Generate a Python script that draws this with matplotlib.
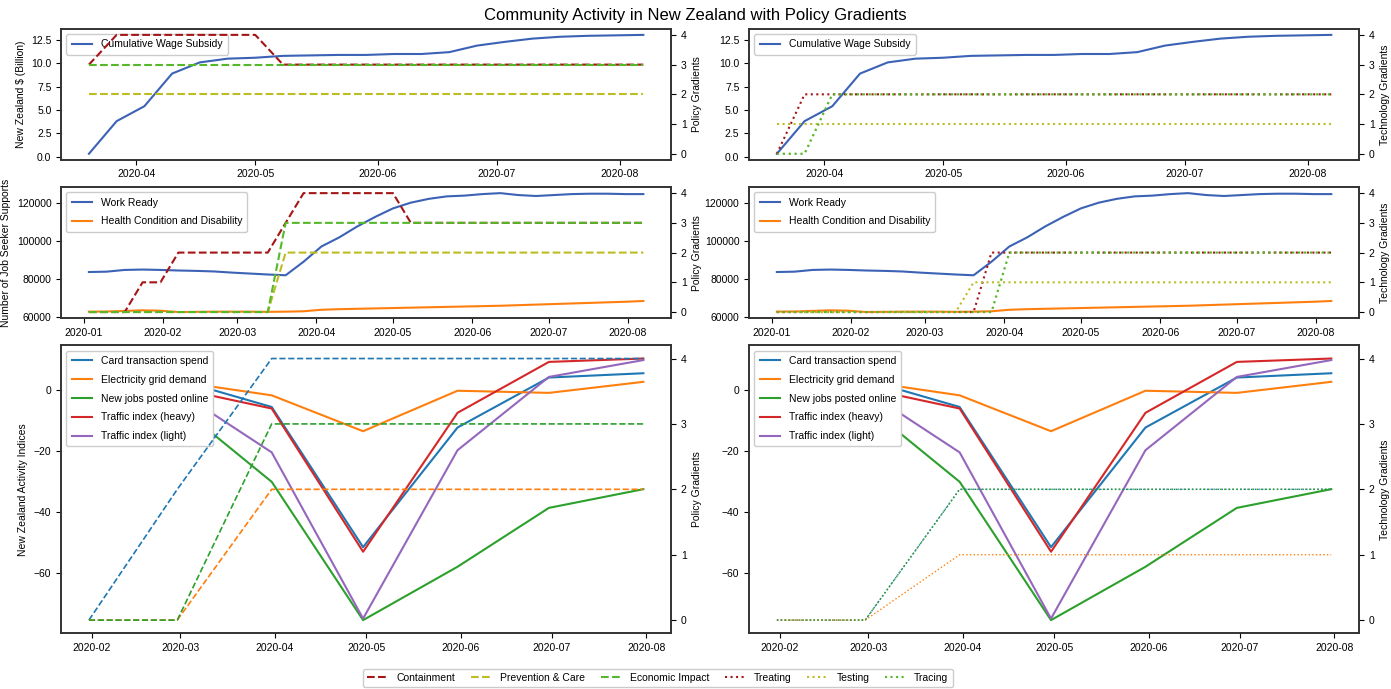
import matplotlib
matplotlib.use("Agg")
import matplotlib.pyplot as plt
import matplotlib.dates as mdates
from matplotlib.lines import Line2D
import pandas as pd

plt.rcParams['font.family'] = ['Liberation Sans', 'DejaVu Sans']
plt.rcParams['font.size'] = 7.5
plt.rcParams['axes.linewidth'] = 1.2
plt.rcParams['axes.edgecolor'] = '#333333'
plt.rcParams['legend.framealpha'] = 1.0
plt.rcParams['legend.labelspacing'] = 0.85
plt.rcParams['legend.borderpad'] = 0.5

# ---------------------------------------------
# DATA
# ---------------------------------------------
# weekly dates (Fridays) for job seeker + policy gradients
weeks = pd.date_range("2020-01-03", "2020-08-07", freq="W-FRI")

work_ready = [83600, 83800, 84700, 84900, 84700, 84400, 84200, 83900, 83300, 82800,
              82300, 81900, 89000, 97000, 101800, 107500, 112500, 117000, 120000, 122000,
              123300, 123700, 124500, 125000, 124000, 123500, 124000, 124500, 124700, 124700,
              124500, 124500]
health_disability = [62800, 62900, 63200, 63500, 63300, 62600, 62700, 62800, 62800, 62800,
                     62700, 62800, 63000, 63800, 64100, 64300, 64500, 64700, 64900, 65100,
                     65300, 65500, 65700, 65900, 66200, 66500, 66800, 67100, 67400, 67700,
                     68000, 68400]

containment = [0, 0, 0, 1, 1, 2, 2, 2, 2, 2, 2, 3, 4, 4, 4, 4, 4, 4, 3, 3,
               3, 3, 3, 3, 3, 3, 3, 3, 3, 3, 3, 3]
prevention = [0, 0, 0, 0, 0, 0, 0, 0, 0, 0, 0, 2, 2, 2, 2, 2, 2, 2, 2, 2,
              2, 2, 2, 2, 2, 2, 2, 2, 2, 2, 2, 2]
economic = [0, 0, 0, 0, 0, 0, 0, 0, 0, 0, 0, 3, 3, 3, 3, 3, 3, 3, 3, 3,
            3, 3, 3, 3, 3, 3, 3, 3, 3, 3, 3, 3]
treating = [0, 0, 0, 0, 0, 0, 0, 0, 0, 0, 0, 0, 2, 2, 2, 2, 2, 2, 2, 2,
            2, 2, 2, 2, 2, 2, 2, 2, 2, 2, 2, 2]
testing = [0, 0, 0, 0, 0, 0, 0, 0, 0, 0, 0, 1, 1, 1, 1, 1, 1, 1, 1, 1,
           1, 1, 1, 1, 1, 1, 1, 1, 1, 1, 1, 1]
tracing = [0, 0, 0, 0, 0, 0, 0, 0, 0, 0, 0, 0, 0, 2, 2, 2, 2, 2, 2, 2,
           2, 2, 2, 2, 2, 2, 2, 2, 2, 2, 2, 2]

# wage subsidy starts 2020-03-20 (index 11 of weeks)
wage_start = 11
wage_subsidy = [0.3, 3.8, 5.4, 8.9, 10.1, 10.5, 10.6, 10.8, 10.85, 10.9, 10.9,
                11.0, 11.0, 11.2, 11.9, 12.3, 12.65, 12.85, 12.95, 13.0, 13.05]

# monthly activity indices (month end)
months = pd.date_range("2020-01-31", periods=7, freq="ME")
card_spend = [2.0, 3.2, -5.7, -51.4, -12.4, 3.9, 5.3]
electricity = [1.0, 2.6, -1.9, -13.6, -0.4, -1.1, 2.5]
new_jobs = [2.0, -5.0, -30.1, -75.2, -57.8, -38.6, -32.5]
traffic_heavy = [1.0, 0.4, -6.2, -52.9, -7.6, 9.0, 10.1]
traffic_light = [1.0, -0.3, -20.5, -74.7, -19.8, 4.1, 9.6]

containment_m = [0, 2, 4, 4, 4, 4, 4]
prevention_m = [0, 0, 2, 2, 2, 2, 2]
economic_m = [0, 0, 3, 3, 3, 3, 3]
treating_m = [0, 0, 2, 2, 2, 2, 2]
testing_m = [0, 0, 1, 1, 1, 1, 1]
tracing_m = [0, 0, 2, 2, 2, 2, 2]

policy_names = ["Containment", "Prevention & Care", "Economic Impact"]
tech_names = ["Treating", "Testing", "Tracing"]
c_red = "#a51515"
c_olive = "#bcbd22"
c_green = "#55b82a"
c_blue = "#3b62b5"

# ---------------------------------------------
# FIGURE
# ---------------------------------------------
fig = plt.figure(figsize=(13.91, 6.89), dpi=100)
gs = fig.add_gridspec(3, 2, height_ratios=[1, 1, 2.2], left=0.044, right=0.977,
                      top=0.958, bottom=0.081, wspace=0.128, hspace=0.15)


def style_dates(ax):
    ax.xaxis.set_major_locator(mdates.MonthLocator())
    ax.xaxis.set_major_formatter(mdates.DateFormatter("%Y-%m"))


def twin(ax, label):
    tw = ax.twinx()
    tw.set_ylim(-0.2, 4.2)
    tw.set_yticks([0, 1, 2, 3, 4])
    tw.set_ylabel(label)
    return tw


# ---- top row: wage subsidy
wdates = weeks[wage_start:]
for col in range(2):
    ax = fig.add_subplot(gs[0, col])
    ax.plot(wdates, wage_subsidy, color=c_blue, lw=1.5, label="Cumulative Wage Subsidy")
    ax.legend(loc="upper left")
    style_dates(ax)
    if col == 0:
        ax.set_ylabel("New Zealand $ (Billion)")
        tw = twin(ax, "Policy Gradients")
        tw.plot(wdates, containment[wage_start:], color=c_red, ls="--", lw=1.5)
        tw.plot(wdates, prevention[wage_start:], color=c_olive, ls="--", lw=1.5)
        tw.plot(wdates, economic[wage_start:], color=c_green, ls="--", lw=1.5)
    else:
        tw = twin(ax, "Technology Gradients")
        tw.plot(wdates, treating[wage_start:], color=c_red, ls=":", lw=1.5)
        tw.plot(wdates, testing[wage_start:], color=c_olive, ls=":", lw=1.5)
        tw.plot(wdates, tracing[wage_start:], color=c_green, ls=":", lw=1.6)

# ---- middle row: job seeker supports
for col in range(2):
    ax = fig.add_subplot(gs[1, col])
    ax.plot(weeks, work_ready, color=c_blue, lw=1.5, label="Work Ready")
    ax.plot(weeks, health_disability, color="#ff7f0e", lw=1.5, label="Health Condition and Disability")
    ax.legend(loc="upper left")
    ax.set_yticks([60000, 80000, 100000, 120000])
    style_dates(ax)
    if col == 0:
        ax.set_ylabel("Number of Job Seeker Supports")
        tw = twin(ax, "Policy Gradients")
        tw.plot(weeks, containment, color=c_red, ls="--", lw=1.5)
        tw.plot(weeks, prevention, color=c_olive, ls="--", lw=1.5)
        tw.plot(weeks, economic, color=c_green, ls="--", lw=1.5)
    else:
        tw = twin(ax, "Technology Gradients")
        tw.plot(weeks, treating, color=c_red, ls=":", lw=1.5)
        tw.plot(weeks, testing, color=c_olive, ls=":", lw=1.5)
        tw.plot(weeks, tracing, color=c_green, ls=":", lw=1.6)

# ---- bottom row: activity indices
for col in range(2):
    ax = fig.add_subplot(gs[2, col])
    ax.plot(months, card_spend, color="#1f77b4", lw=1.5, label="Card transaction spend")
    ax.plot(months, electricity, color="#ff7f0e", lw=1.5, label="Electricity grid demand")
    ax.plot(months, new_jobs, color="#2ca02c", lw=1.5, label="New jobs posted online")
    ax.plot(months, traffic_heavy, color="#d62728", lw=1.5, label="Traffic index (heavy)")
    ax.plot(months, traffic_light, color="#9467bd", lw=1.5, label="Traffic index (light)")
    ax.legend(loc="upper left")
    ax.set_yticks([0, -20, -40, -60])
    style_dates(ax)
    if col == 0:
        ax.set_ylabel("New Zealand Activity Indices")
        tw = twin(ax, "Policy Gradients")
        tw.plot(months, containment_m, color="#1f77b4", ls="--", lw=1.2)
        tw.plot(months, prevention_m, color="#ff7f0e", ls="--", lw=1.2)
        tw.plot(months, economic_m, color="#2ca02c", ls="--", lw=1.2)
    else:
        tw = twin(ax, "Technology Gradients")
        tw.plot(months, treating_m, color="#1f77b4", ls=":", lw=1.0)
        tw.plot(months, testing_m, color="#ff7f0e", ls=":", lw=1.0)
        tw.plot(months, tracing_m, color="#2ca02c", ls=":", lw=1.1)

# ---- figure legend
handles = [Line2D([], [], color=c, ls=s, lw=1.5)
           for c, s in zip([c_red, c_olive, c_green, c_red, c_olive, c_green],
                           ["--", "--", "--", ":", ":", ":"])]
fig.legend(handles, policy_names + tech_names, loc="lower center",
           bbox_to_anchor=(0.473, -0.005), ncol=6, fontsize=7.5, columnspacing=1.5,
           labelspacing=0.5, borderpad=0.4)

fig.suptitle("Community Activity in New Zealand with Policy Gradients", fontsize=12, y=0.988)

fig.savefig("out.png", dpi=100)
